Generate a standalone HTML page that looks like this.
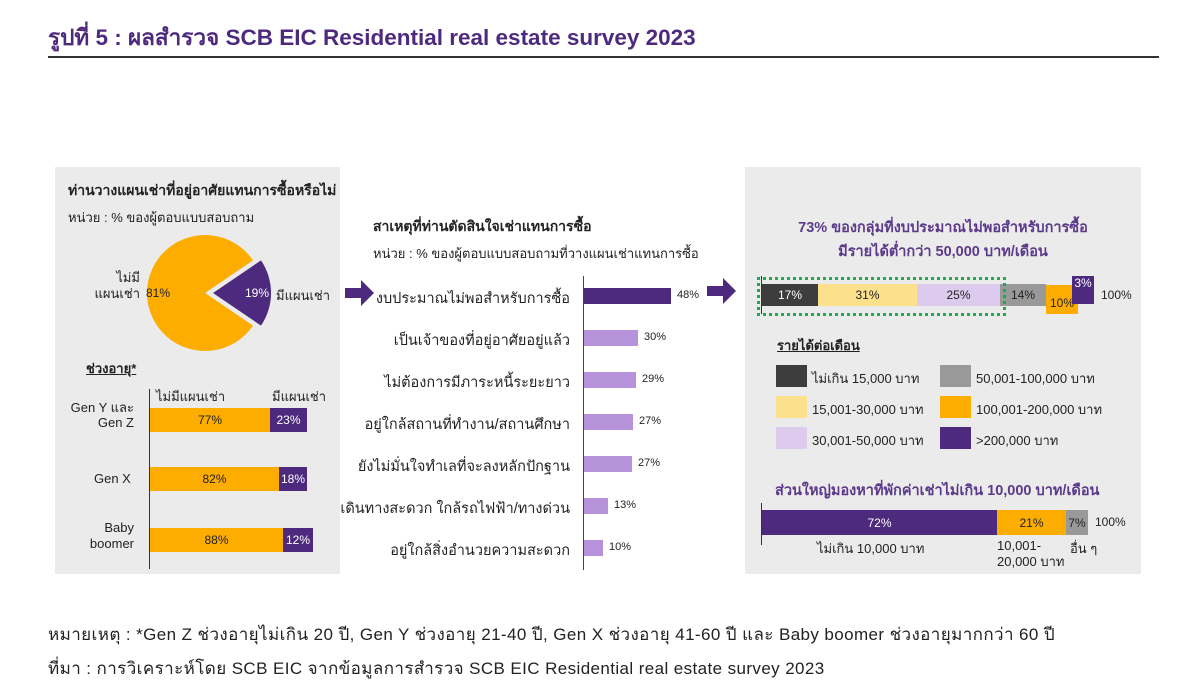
<!DOCTYPE html>
<html><head><meta charset="utf-8"><style>
body{margin:0;width:1186px;height:697px;background:#fff;position:relative;overflow:hidden;font-family:"Liberation Sans","DejaVu Sans",sans-serif;color:#222}
.a{position:absolute;white-space:nowrap}
.panel{position:absolute;background:#ebebeb}
.b{position:absolute}
.t{font-size:13px}
.c{text-align:center;display:flex;align-items:center;justify-content:center;font-size:12px}
.pu{background:#4e2a7e;color:#fff}
.or{background:#fdac00}
.lp{background:#b592d9}
</style></head><body>
<div class="a" style="left:48px;top:19px;font-size:22.5px;font-weight:bold;color:#4e2a7e">รูปที่ 5 : ผลสำรวจ SCB EIC Residential real estate survey 2023</div>
<div class="b" style="left:48px;top:56px;width:1111px;height:2px;background:#333"></div>

<div class="panel" style="left:55px;top:167px;width:285px;height:407px"></div>
<div class="panel" style="left:745px;top:167px;width:396px;height:407px"></div>

<!-- left -->
<div class="a" style="left:68px;top:180px;font-size:14px;font-weight:bold">ท่านวางแผนเช่าที่อยู่อาศัยแทนการซื้อหรือไม่</div>
<div class="a t" style="left:68px;top:207px">หน่วย : % ของผู้ตอบแบบสอบถาม</div>
<svg class="b" style="left:0;top:0" width="400" height="400">
<path d="M205,293 L253,260.4 A58,58 0 1 0 253,325.6 Z" fill="#fdac00"/>
<path d="M213,293 L261,260.4 A58,58 0 0 1 261,325.6 Z" fill="#4e2a7e"/>
</svg>
<div class="a t" style="left:70px;width:70px;top:270px;text-align:right;line-height:16px">ไม่มี<br>แผนเช่า</div>
<div class="a" style="left:146px;top:286px;font-size:12px">81%</div>
<div class="a" style="left:245px;top:286px;font-size:12px;color:#fff">19%</div>
<div class="a t" style="left:276px;top:285px">มีแผนเช่า</div>

<div class="a t" style="left:86px;top:358px;font-weight:bold;text-decoration:underline">ช่วงอายุ*</div>
<div class="b" style="left:149px;top:389px;width:1px;height:180px;background:#333"></div>
<div class="a t" style="left:156px;top:386px">ไม่มีแผนเช่า</div>
<div class="a t" style="left:272px;top:386px">มีแผนเช่า</div>
<div class="a t" style="left:62px;top:400px;text-align:right;line-height:15px;width:72px">Gen Y และ<br>Gen Z</div>
<div class="b c or" style="left:150px;top:408px;width:120px;height:24px">77%</div>
<div class="b c pu" style="left:270px;top:408px;width:37px;height:24px">23%</div>
<div class="a t" style="left:94px;top:471px">Gen X</div>
<div class="b c or" style="left:150px;top:467px;width:129px;height:24px">82%</div>
<div class="b c pu" style="left:279px;top:467px;width:28px;height:24px">18%</div>
<div class="a t" style="left:62px;top:520px;text-align:right;line-height:16px;width:72px">Baby<br>boomer</div>
<div class="b c or" style="left:150px;top:528px;width:133px;height:24px">88%</div>
<div class="b c pu" style="left:283px;top:528px;width:30px;height:24px">12%</div>

<!-- arrows -->
<svg class="b" style="left:345px;top:280px" width="30" height="26"><path d="M0,8 H16 V0 L29,13 L16,26 V18 H0 Z" fill="#4e2a7e"/></svg>
<svg class="b" style="left:707px;top:278px" width="30" height="26"><path d="M0,8 H16 V0 L29,13 L16,26 V18 H0 Z" fill="#4e2a7e"/></svg>

<!-- middle -->
<div class="a" style="left:373px;top:216px;font-size:14px;font-weight:bold">สาเหตุที่ท่านตัดสินใจเช่าแทนการซื้อ</div>
<div class="a t" style="left:373px;top:243px">หน่วย : % ของผู้ตอบแบบสอบถามที่วางแผนเช่าแทนการซื้อ</div>
<div class="b" style="left:583px;top:276px;width:1px;height:294px;background:#444"></div>
<div class="a" style="right:616px;top:287px;font-size:14.5px">งบประมาณไม่พอสำหรับการซื้อ</div>
<div class="b pu" style="left:584px;top:288px;width:87px;height:16px"></div><div class="a" style="left:677px;top:289px;font-size:11px">48%</div>
<div class="a" style="right:616px;top:329px;font-size:14.5px">เป็นเจ้าของที่อยู่อาศัยอยู่แล้ว</div>
<div class="b lp" style="left:584px;top:330px;width:54px;height:16px"></div><div class="a" style="left:644px;top:331px;font-size:11px">30%</div>
<div class="a" style="right:616px;top:371px;font-size:14.5px">ไม่ต้องการมีภาระหนี้ระยะยาว</div>
<div class="b lp" style="left:584px;top:372px;width:52px;height:16px"></div><div class="a" style="left:642px;top:373px;font-size:11px">29%</div>
<div class="a" style="right:616px;top:413px;font-size:14.5px">อยู่ใกล้สถานที่ทำงาน/สถานศึกษา</div>
<div class="b lp" style="left:584px;top:414px;width:49px;height:16px"></div><div class="a" style="left:639px;top:415px;font-size:11px">27%</div>
<div class="a" style="right:616px;top:455px;font-size:14.5px">ยังไม่มั่นใจทำเลที่จะลงหลักปักฐาน</div>
<div class="b lp" style="left:584px;top:456px;width:48px;height:16px"></div><div class="a" style="left:638px;top:457px;font-size:11px">27%</div>
<div class="a" style="right:616px;top:497px;font-size:14.5px">เดินทางสะดวก ใกล้รถไฟฟ้า/ทางด่วน</div>
<div class="b lp" style="left:584px;top:498px;width:24px;height:16px"></div><div class="a" style="left:614px;top:499px;font-size:11px">13%</div>
<div class="a" style="right:616px;top:539px;font-size:14.5px">อยู่ใกล้สิ่งอำนวยความสะดวก</div>
<div class="b lp" style="left:584px;top:540px;width:19px;height:16px"></div><div class="a" style="left:609px;top:541px;font-size:11px">10%</div>

<!-- right -->
<div class="a" style="left:745px;width:396px;top:216px;text-align:center;font-size:14.5px;font-weight:bold;color:#5c3a8a;line-height:24px;white-space:normal">73% ของกลุ่มที่งบประมาณไม่พอสำหรับการซื้อ<br>มีรายได้ต่ำกว่า 50,000 บาท/เดือน</div>
<div class="b" style="left:761px;top:276px;width:1px;height:38px;background:#333"></div>
<div class="b c" style="left:762px;top:284px;width:56px;height:22px;background:#3d3d3d;color:#fff">17%</div>
<div class="b c" style="left:818px;top:284px;width:99px;height:22px;background:#fde08c">31%</div>
<div class="b c" style="left:917px;top:284px;width:83px;height:22px;background:#dccbec">25%</div>
<div class="b c" style="left:1000px;top:284px;width:46px;height:22px;background:#999">14%</div>
<div class="b c or" style="left:1046px;top:285px;width:32px;height:29px;padding-top:6px;box-sizing:border-box">10%</div>
<div class="b c pu" style="left:1072px;top:276px;width:22px;height:28px;align-items:flex-start">3%</div>
<div class="a" style="left:1101px;top:288px;font-size:12px">100%</div>
<div class="b" style="left:757px;top:277px;width:243px;height:33px;border:3px dotted #1fa84f"></div>

<div class="a t" style="left:777px;top:335px;font-weight:bold;text-decoration:underline">รายได้ต่อเดือน</div>
<div class="b" style="left:776px;top:365px;width:31px;height:22px;background:#3d3d3d"></div><div class="a t" style="left:812px;top:368px">ไม่เกิน 15,000 บาท</div>
<div class="b" style="left:776px;top:396px;width:31px;height:22px;background:#fde08c"></div><div class="a t" style="left:812px;top:399px">15,001-30,000 บาท</div>
<div class="b" style="left:776px;top:427px;width:31px;height:22px;background:#dccbec"></div><div class="a t" style="left:812px;top:430px">30,001-50,000 บาท</div>
<div class="b" style="left:940px;top:365px;width:31px;height:22px;background:#999"></div><div class="a t" style="left:976px;top:368px">50,001-100,000 บาท</div>
<div class="b or" style="left:940px;top:396px;width:31px;height:22px"></div><div class="a t" style="left:976px;top:399px">100,001-200,000 บาท</div>
<div class="b pu" style="left:940px;top:427px;width:31px;height:22px"></div><div class="a t" style="left:976px;top:430px">&gt;200,000 บาท</div>

<div class="a" style="left:775px;top:479px;font-size:14.5px;font-weight:bold;color:#5c3a8a">ส่วนใหญ่มองหาที่พักค่าเช่าไม่เกิน 10,000 บาท/เดือน</div>
<div class="b" style="left:761px;top:503px;width:1px;height:42px;background:#333"></div>
<div class="b c pu" style="left:762px;top:510px;width:235px;height:25px">72%</div>
<div class="b c or" style="left:997px;top:510px;width:69px;height:25px">21%</div>
<div class="b c" style="left:1066px;top:510px;width:22px;height:25px;background:#999">7%</div>
<div class="a" style="left:1095px;top:515px;font-size:12px">100%</div>
<div class="a t" style="left:817px;top:538px">ไม่เกิน 10,000 บาท</div>
<div class="a t" style="left:997px;top:538px;line-height:16px">10,001-<br>20,000 บาท</div>
<div class="a t" style="left:1070px;top:538px">อื่น ๆ</div>

<div class="a" style="left:48px;top:621px;font-size:17px;letter-spacing:0.4px">หมายเหตุ : *Gen Z ช่วงอายุไม่เกิน 20 ปี, Gen Y ช่วงอายุ 21-40 ปี, Gen X ช่วงอายุ 41-60 ปี และ Baby boomer ช่วงอายุมากกว่า 60 ปี</div>
<div class="a" style="left:48px;top:655px;font-size:17px;letter-spacing:0.4px">ที่มา : การวิเคราะห์โดย SCB EIC จากข้อมูลการสำรวจ SCB EIC Residential real estate survey 2023</div>
</body></html>
